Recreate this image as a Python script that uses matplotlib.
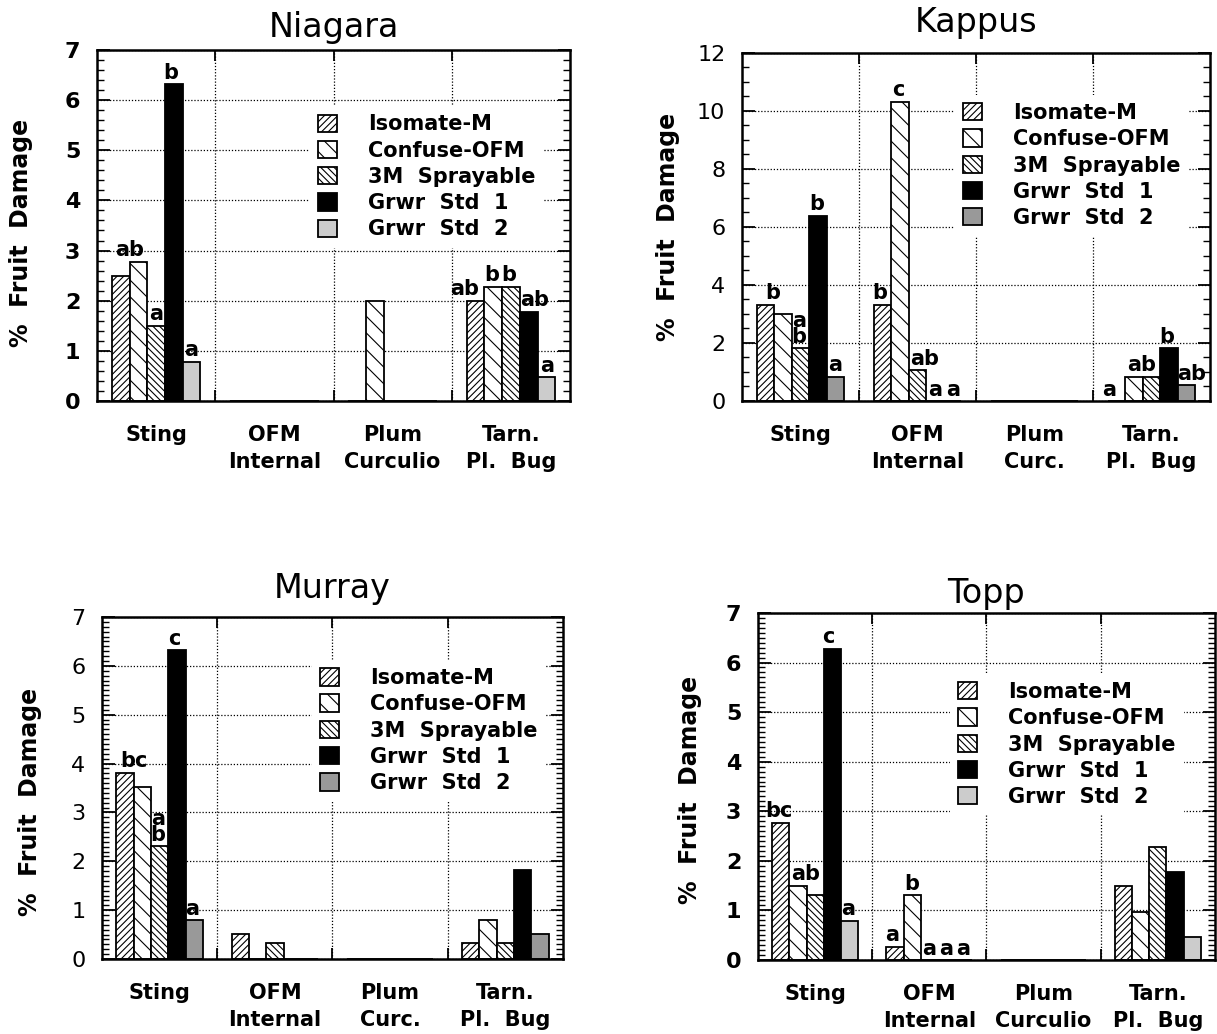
import numpy as np
import matplotlib
matplotlib.use('Agg')
import matplotlib.pyplot as plt
from matplotlib.ticker import MultipleLocator

plt.rcParams['font.family'] = 'DejaVu Sans'
plt.rcParams['hatch.linewidth'] = 0.8

# damage types (x groups) and treatments (bars within a group)
cats_long = ['Sting', 'OFM\nInternal', 'Plum\nCurculio', 'Tarn.\nPl.  Bug']
cats_short = ['Sting', 'OFM\nInternal', 'Plum\nCurc.', 'Tarn.\nPl.  Bug']
treatments = ['Isomate-M', 'Confuse-OFM', '3M  Sprayable', 'Grwr  Std  1', 'Grwr  Std  2']

# % fruit damage: one row per treatment, one column per damage type
niagara = [[2.50, 0.00, 0.00, 2.00],
           [2.78, 0.00, 2.00, 2.28],
           [1.50, 0.00, 0.00, 2.28],
           [6.32, 0.00, 0.00, 1.78],
           [0.78, 0.00, 0.00, 0.47]]
kappus = [[3.32, 3.32, 0.00, 0.00],
          [3.01, 10.32, 0.00, 0.84],
          [1.81, 1.07, 0.00, 0.84],
          [6.39, 0.00, 0.00, 1.81],
          [0.84, 0.00, 0.00, 0.55]]
murray = [[3.81, 0.51, 0.00, 0.33],
          [3.52, 0.00, 0.00, 0.80],
          [2.31, 0.33, 0.00, 0.33],
          [6.32, 0.00, 0.00, 1.82],
          [0.80, 0.00, 0.00, 0.51]]
topp = [[2.77, 0.27, 0.00, 1.50],
        [1.50, 1.31, 0.00, 0.97],
        [1.31, 0.00, 0.00, 2.28],
        [6.28, 0.00, 0.00, 1.78],
        [0.79, 0.00, 0.00, 0.47]]

# significance letters: (group, treatment, text, shift in bar widths)
niagara_letters = [(0, 1, 'ab', -0.5), (0, 2, 'a', 0), (0, 3, 'b', -0.15), (0, 4, 'a', 0),
                   (3, 0, 'ab', -0.6), (3, 1, 'b', -0.1), (3, 2, 'b', -0.1),
                   (3, 3, 'ab', 0.36), (3, 4, 'a', 0.05)]
kappus_letters = [(0, 0, 'b', 0.4), (0, 2, 'a\nb', -0.1), (0, 3, 'b', -0.1), (0, 4, 'a', 0),
                  (1, 0, 'b', -0.15), (1, 1, 'c', -0.1), (1, 2, 'ab', 0.4),
                  (1, 3, 'a', 0), (1, 4, 'a', 0),
                  (3, 0, 'a', -0.4), (3, 1, 'ab', 0.45), (3, 3, 'b', -0.15), (3, 4, 'ab', 0.3)]
murray_letters = [(0, 0, 'bc', 0.5), (0, 2, 'a\nb', -0.1), (0, 3, 'c', -0.15), (0, 4, 'a', -0.1)]
topp_letters = [(0, 0, 'bc', -0.1), (0, 1, 'ab', 0.45), (0, 3, 'c', -0.25), (0, 4, 'a', -0.1),
                (1, 0, 'a', -0.15), (1, 1, 'b', 0), (1, 2, 'a', 0), (1, 3, 'a', 0), (1, 4, 'a', 0)]

hatches = ['/////', '\\\\', '\\\\\\\\\\', '', '']
w = 0.15

fig = plt.figure(figsize=(12.17, 10.34), dpi=100)


def draw_panel(rect, title, values, ymax, major, minor, labels, letters, gray,
               tick_weight, leg_xy, title_pad, ylab_xy):
    ax = fig.add_axes(rect)
    colors = ['white', 'white', 'white', 'black', gray]
    x = np.arange(4) + 0.5
    for i in range(5):
        ax.bar(x + (i - 2) * w, values[i], width=w, color=colors[i], edgecolor='black',
               hatch=hatches[i], linewidth=1.3, label=treatments[i], zorder=2)

    for g, i, txt, dx in letters:
        xpos = g + 0.5 + (i - 2) * w + dx * w
        ax.annotate(txt, (xpos, values[i][g]), xytext=(0, 1), textcoords='offset points',
                    ha='center', va='bottom', fontsize=15, fontweight='bold',
                    linespacing=0.75, zorder=4)

    ax.set_xlim(0, 4)
    ax.set_ylim(0, ymax)
    ax.set_xticks([1, 2, 3])
    ax.set_xticklabels([])
    ax.set_xticks(x, minor=True)
    ax.set_xticklabels(labels, minor=True, fontsize=15, fontweight='bold', linespacing=1.45)
    ax.tick_params(axis='x', which='major', direction='in', top=True, length=8, width=1.3)
    ax.tick_params(axis='x', which='minor', length=0, pad=17)

    ax.yaxis.set_major_locator(MultipleLocator(major))
    ax.yaxis.set_minor_locator(MultipleLocator(minor))
    ax.tick_params(axis='y', which='major', direction='in', right=True, length=9, width=1.3,
                   pad=12, labelsize=16)
    ax.tick_params(axis='y', which='minor', direction='in', right=True, length=5, width=1.0)
    for t in ax.get_yticklabels():
        t.set_fontweight(tick_weight)

    ax.grid(True, which='major', color='black', linestyle=(0, (1, 1.5)), linewidth=0.9)
    ax.set_axisbelow(True)
    for s in ax.spines.values():
        s.set_linewidth(1.8)

    ax.set_title(title, fontsize=24, pad=title_pad)
    ax.set_ylabel('%  Fruit  Damage', fontsize=17, fontweight='bold')
    ax.yaxis.set_label_coords(*ylab_xy)

    leg = ax.legend(loc='upper left', bbox_to_anchor=leg_xy, frameon=True, facecolor='white',
                    edgecolor='none', framealpha=1, fancybox=False, handlelength=0.9,
                    handleheight=0.9, handletextpad=1.5, labelspacing=0.3, borderpad=0.4,
                    borderaxespad=0, prop=dict(weight='bold', size=15))
    leg.set_zorder(5)
    return ax


draw_panel([0.0797, 0.6122, 0.3887, 0.3395], 'Niagara', niagara, 7, 1, 0.2, cats_long,
           niagara_letters, '#cccccc', 'bold', (0.45, 0.84), 9, (-0.135, 0.48))
draw_panel([0.6097, 0.6122, 0.3846, 0.3366], 'Kappus', kappus, 12, 2, 0.5, cats_short,
           kappus_letters, '#999999', 'normal', (0.455, 0.88), 15, (-0.132, 0.5))
draw_panel([0.0838, 0.0725, 0.3788, 0.3308], 'Murray', murray, 7, 1, 0.1, cats_short,
           murray_letters, '#999999', 'normal', (0.455, 0.875), 14, (-0.13, 0.46))
draw_panel([0.6228, 0.0716, 0.3755, 0.3356], 'Topp', topp, 7, 1, 0.1, cats_long,
           topp_letters, '#cccccc', 'bold', (0.42, 0.825), 7, (-0.123, 0.49))

fig.savefig('out.png', dpi=100)
